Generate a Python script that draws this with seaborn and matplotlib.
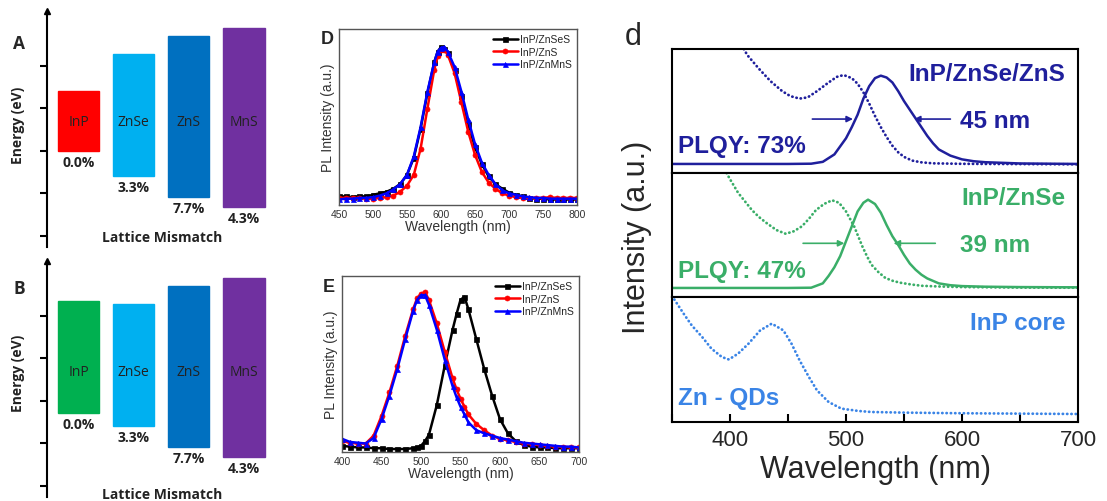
import numpy as np
import pandas as pd
import seaborn as sns
import matplotlib.pyplot as plt
from matplotlib.ticker import MultipleLocator

# ---------------- data ----------------
# panels A / B: band positions (arbitrary energy units)
materials = ["InP", "ZnSe", "ZnS", "MnS"]
mismatch = ["0.0%", "3.3%", "7.7%", "4.3%"]
cb_a = [3.41, 4.28, 4.71, 4.89]
vb_a = [2.00, 1.41, 0.92, 0.68]
cb_b = [4.35, 4.28, 4.71, 4.89]
vb_b = [1.72, 1.41, 0.92, 0.68]
colors_a = ["#FF0000", "#00B0F0", "#0070C0", "#7030A0"]
colors_b = ["#00B050", "#00B0F0", "#0070C0", "#7030A0"]

# panel D: PL spectra, red emitting QDs
d_black_x = [450, 460, 470, 480, 490, 500, 510, 520, 530, 540, 550, 560, 570, 580, 590, 595, 600, 605, 610,
             620, 630, 640, 650, 660, 670, 680, 690, 700, 710, 720, 730, 740, 750, 760, 770, 780, 790, 800]
d_black_y = [.03, .03, .025, .03, .03, .04, .05, .06, .08, .11, .17, .28, .47, .70, .90, .97, 1.0, .99, .96,
             .85, .68, .50, .35, .24, .16, .11, .08, .055, .04, .03, .02, .015, .015, .01, .01, .01, .01, .01]
d_red_x = d_black_x
d_red_y = [.02, .02, .02, .02, .015, .015, .02, .025, .035, .06, .10, .17, .34, .60, .85, .94, .98, .98, .95,
           .83, .64, .45, .30, .19, .12, .08, .05, .035, .025, .02, .02, .02, .02, .025, .02, .02, .02, .02]
d_blue_x = d_black_x
d_blue_y = [.01, .015, .015, .02, .02, .025, .035, .05, .075, .11, .17, .29, .48, .71, .90, .97, .995, 1.0, .97,
            .87, .71, .53, .37, .25, .17, .11, .07, .05, .04, .03, .025, .02, .02, .015, .015, .015, .015, .015]

# panel E: PL spectra, green emitting QDs
e_x = [400, 410, 420, 430, 440, 450, 460, 470, 480, 490, 495, 500, 505, 510, 520, 530, 540, 545, 550, 555,
       560, 570, 580, 590, 600, 610, 620, 630, 640, 650, 660, 670, 680, 690, 700]
e_red_y = [.05, .04, .035, .035, .085, .21, .36, .53, .72, .89, .96, .99, 1.0, .95, .80, .62, .45, .38, .32, .27,
           .22, .16, .12, .085, .065, .055, .045, .035, .03, .025, .02, .015, .015, .01, .01]
e_blue_y = [.065, .045, .04, .035, .07, .19, .34, .51, .70, .88, .95, .98, .98, .92, .76, .57, .40, .33, .27, .22,
            .17, .12, .10, .085, .07, .06, .05, .04, .035, .03, .025, .02, .015, .015, .01]
e_black_y = [.02, .015, .01, .01, .005, .005, 0, 0, 0, .005, .01, .02, .05, .09, .28, .53, .76, .86, .95, .97,
             .89, .70, .51, .34, .19, .10, .05, .025, .015, .01, .01, .005, .005, .005, .005]
legend_labels = ["InP/ZnSeS", "InP/ZnS", "InP/ZnMnS"]

# panel d: absorption (dotted) and PL (solid), three stacked rows
top_pl_x = [350, 400, 450, 470, 480, 490, 500, 505, 510, 515, 520, 525, 530, 535, 540, 545, 550, 555, 560,
            565, 570, 575, 580, 590, 600, 610, 620, 650, 700]
top_pl_y = [.073, .073, .073, .075, .09, .15, .28, .37, .47, .60, .70, .765, .785, .77, .73, .66, .58, .51, .44,
            .37, .30, .24, .19, .14, .11, .095, .087, .077, .073]
top_abs_x = [410, 415, 425, 435, 445, 452, 460, 467, 475, 485, 492, 498, 505, 510, 515, 520, 525, 530, 535,
             540, 545, 550, 557, 565, 575, 600, 650, 700]
top_abs_y = [1.03, .95, .84, .74, .66, .62, .60, .61, .66, .73, .775, .79, .765, .72, .65, .56, .46, .37, .29,
             .22, .167, .13, .10, .086, .078, .074, .072, .07]
mid_pl_x = [350, 400, 450, 470, 480, 485, 490, 495, 500, 505, 510, 515, 519, 525, 530, 535, 540, 545, 550,
            555, 560, 565, 570, 580, 590, 600, 620, 650, 700]
mid_pl_y = [.073, .073, .073, .075, .11, .17, .24, .33, .45, .57, .69, .76, .785, .75, .68, .58, .49, .42, .34,
            .27, .22, .18, .15, .11, .095, .088, .083, .08, .078]
mid_abs_x = [397, 400, 407, 413, 419, 425, 431, 440, 448, 455, 462, 468, 474, 481, 488, 494, 500, 507, 514,
             518, 522, 528, 534, 541, 548, 557, 566, 580, 600, 650, 700]
mid_abs_y = [1.0, .95, .84, .77, .70, .645, .60, .54, .51, .53, .57, .63, .70, .75, .78, .76, .69, .57, .41,
             .33, .26, .20, .153, .128, .113, .10, .09, .085, .08, .076, .075]
bot_abs_x = [352, 360, 367, 376, 384, 393, 399, 407, 416, 426, 436, 446, 453, 460, 468, 475, 485, 496, 511,
             522, 550, 600, 650, 700]
bot_abs_y = [.98, .867, .773, .68, .587, .52, .50, .547, .627, .733, .787, .733, .627, .493, .36, .253, .16,
             .107, .088, .08, .075, .07, .067, .064]
row_names = ["InP/ZnSe/ZnS", "InP/ZnSe", "InP core"]
row_notes = ["PLQY: 73%", "PLQY: 47%", "Zn - QDs"]
fwhm_labels = ["45 nm", "39 nm"]
row_colors = ["#1F1F9C", "#3AAE68", "#3A84E6"]

# ---------------- figure ----------------
sns.set_theme(style="white")
plt.rcParams['font.family'] = ['Liberation Sans', 'DejaVu Sans']
W, H = 1107, 502
fig = plt.figure(figsize=(W / 100, H / 100), dpi=100)


def px_axes(left, top, right, bottom):
    return fig.add_axes([left / W, 1 - bottom / H, (right - left) / W, (bottom - top) / H])


ab_font = dict(family=['Open Sans', 'DejaVu Sans'])


def band_panel(ax, cb, vb, colors, label_y):
    pos = np.arange(len(materials))
    ax.bar(pos, np.array(cb) - np.array(vb), bottom=vb, width=0.75, color=colors, edgecolor=colors)
    for i in pos:
        ax.text(i, 2.68, materials[i], ha='center', va='center', fontsize=10, color='#222222', **ab_font)
        ax.annotate(mismatch[i], (i, vb[i]), xytext=(0, -3), textcoords='offset points',
                    ha='center', va='top', fontsize=10, fontweight='bold', color='#222222', **ab_font)
    ax.text(1.52, label_y, "Lattice Mismatch", ha='center', va='center', fontsize=10,
            fontweight='bold', color='#222222', **ab_font)
    ax.set_xlim(-0.573, 3.564)
    ax.set_ylim(-0.26, 5.29)
    for s in ['top', 'right', 'bottom']:
        ax.spines[s].set_visible(False)
    ax.spines['left'].set_linewidth(1.5)
    ax.spines['left'].set_color('black')
    ax.set_xticks([])
    ax.set_yticks([0, 1, 2, 3, 4])
    ax.tick_params(axis='y', direction='out', length=5, width=1.5, color='black', labelleft=False, left=True)
    ax.plot([0], [1], marker='^', ms=4, color='black', transform=ax.transAxes, clip_on=False)


ax_a = px_axes(47, 12, 275, 248)
band_panel(ax_a, cb_a, vb_a, colors_a, -0.02)
ax_b = px_axes(47, 262, 275, 498)
band_panel(ax_b, cb_b, vb_b, colors_b, -0.19)
for lab, yy in [("A", 44), ("B", 289)]:
    fig.text(19 / W, 1 - yy / H, lab, ha='center', va='center', fontsize=12.5, fontweight='bold', **ab_font)
for yy in [125, 373]:
    fig.text(18 / W, 1 - yy / H, "Energy (eV)", rotation=90, ha='center', va='center', fontsize=10,
             fontweight='bold', color='#222222', **ab_font)


def pl_panel(ax, series, xlim, xticks):
    styles = [("black", "s"), ("red", "o"), ("blue", "^")]
    for (x, y), (c, m), lab in zip(series, styles, legend_labels):
        sns.lineplot(x=x, y=y, ax=ax, color=c, marker=m, markersize=3.6, markeredgecolor=c,
                     markeredgewidth=0.5, lw=1.8, label=lab, errorbar=None)
    ax.set_xlim(*xlim)
    ax.set_xticks(xticks)
    ax.set_yticks([])
    ax.tick_params(axis='x', length=0, pad=3, labelsize=7.5, labelcolor='#333333')
    for s in ax.spines.values():
        s.set_color('#555555')
        s.set_linewidth(1.0)
    ax.set_xlabel("Wavelength (nm)", fontsize=10, labelpad=0, color='#333333')
    ax.set_ylabel("PL Intensity (a.u.)", fontsize=10, labelpad=3, color='#333333')
    ax.legend(loc='upper right', frameon=False, fontsize=7.5, handlelength=2.4, handletextpad=0.2,
              labelspacing=0.25, borderaxespad=0.3, borderpad=0.2)


ax_d = px_axes(339, 30, 577, 206)
pl_panel(ax_d, [(d_black_x, d_black_y), (d_red_x, d_red_y), (d_blue_x, d_blue_y)],
         (450, 800), range(450, 801, 50))
ax_d.set_ylim(-0.026, 1.117)
ax_e = px_axes(342, 277, 579, 453)
pl_panel(ax_e, [(e_x, e_black_y), (e_x, e_red_y), (e_x, e_blue_y)], (400, 700), range(400, 701, 50))
ax_e.set_ylim(-0.019, 1.102)
fig.text(327 / W, 1 - 40 / H, "D", ha='center', va='center', fontsize=13, fontweight='bold')
fig.text(329 / W, 1 - 288 / H, "E", ha='center', va='center', fontsize=13, fontweight='bold')

# panel d
rows = [px_axes(672, 50, 1078, 174), px_axes(672, 174, 1078, 298), px_axes(672, 298, 1078, 423)]
dotted = (0, (0.1, 1.45))
abs_data = [(top_abs_x, top_abs_y), (mid_abs_x, mid_abs_y), (bot_abs_x, bot_abs_y)]
pl_data = [(top_pl_x, top_pl_y), (mid_pl_x, mid_pl_y), None]
arrows = [(471, 506, 590, 558.6, 0.435), (463, 498.6, 577, 541, 0.433)]
note_y = [0.22, 0.21, 0.20]
for k, ax in enumerate(rows):
    c = row_colors[k]
    ax_x, ax_y = abs_data[k]
    sns.lineplot(x=ax_x, y=ax_y, ax=ax, color=c, lw=2.0, linestyle=dotted, dash_capstyle='round',
                 errorbar=None)
    if pl_data[k] is not None:
        sns.lineplot(x=pl_data[k][0], y=pl_data[k][1], ax=ax, color=c, lw=1.8, errorbar=None)
        lt, lh, rt, rh, ay = arrows[k]
        for tail, head in [(lt, lh), (rt, rh)]:
            ax.annotate("", xy=(head, ay), xytext=(tail, ay),
                        arrowprops=dict(arrowstyle='-|>', color=c, lw=1.2, mutation_scale=9,
                                        shrinkA=0, shrinkB=0))
        ax.text(598, ay - 0.01, fwhm_labels[k], color=c, fontsize=17.5, fontweight='bold',
                ha='left', va='center')
    ax.text(689, 0.80, row_names[k], color=c, fontsize=17.5, fontweight='bold', ha='right', va='center')
    ax.text(355, note_y[k], row_notes[k], color=c, fontsize=17.5, fontweight='bold', ha='left', va='center')
    ax.set_xlim(350, 700)
    ax.set_ylim(0, 1)
    ax.set_yticks([])
    for s in ax.spines.values():
        s.set_color('black')
        s.set_linewidth(1.5)
    if k < 2:
        ax.set_xticks([])
    else:
        ax.xaxis.set_major_locator(MultipleLocator(100))
        ax.xaxis.set_minor_locator(MultipleLocator(50))
        ax.tick_params(axis='x', which='both', direction='in', length=6, width=1.5, color='black',
                       bottom=True, top=False, labelsize=16, pad=5)
        ax.set_xticks([400, 500, 600, 700])

fig.text(876 / W, 1 - 470 / H, "Wavelength (nm)", ha='center', va='center', fontsize=22)
fig.text(637 / W, 1 - 237 / H, "Intensity (a.u.)", rotation=90, ha='center', va='center', fontsize=22)
fig.text(633 / W, 1 - 37 / H, "d", ha='center', va='center', fontsize=22)

fig.savefig("out.png", dpi=100)
